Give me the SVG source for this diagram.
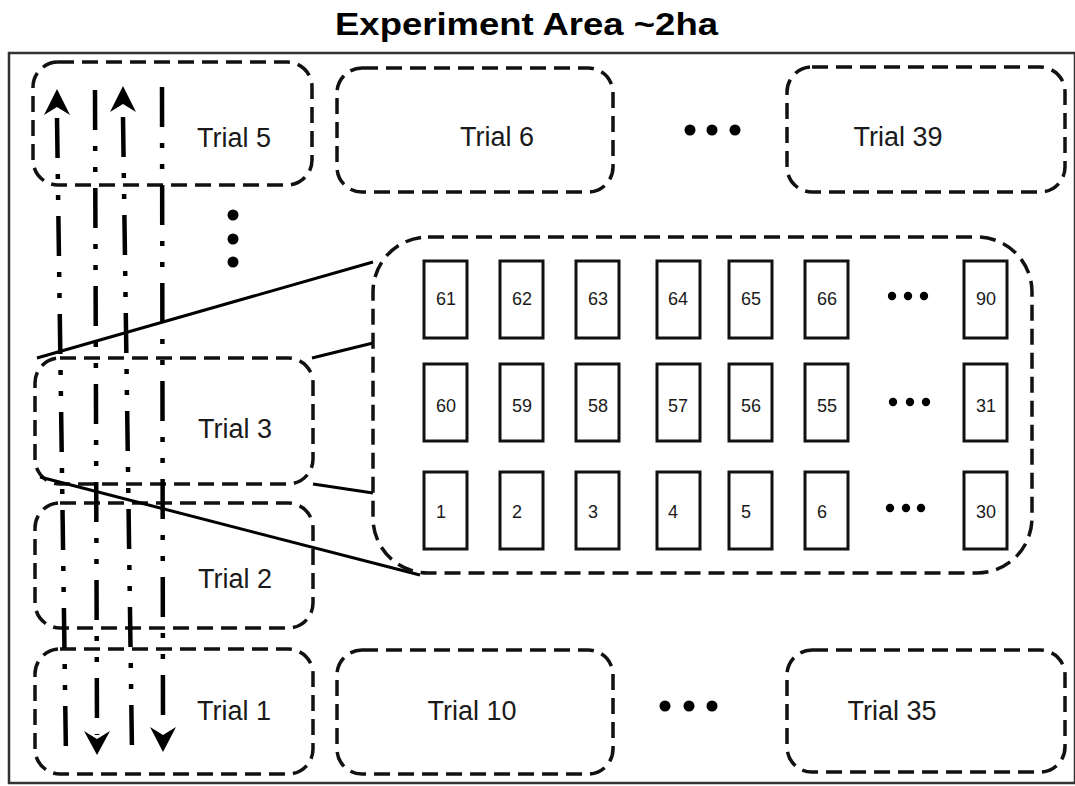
<svg xmlns="http://www.w3.org/2000/svg" width="1075" height="786" viewBox="0 0 1075 786">
<style>
.frame{fill:none;stroke:#333;stroke-width:2.5}
.dbox{fill:none;stroke:#111;stroke-width:3.5;stroke-dasharray:16 8}
.plot{fill:#fff;stroke:#111;stroke-width:3}
.lbl{font-family:"Liberation Sans",Arial,sans-serif;font-size:27px;fill:#1a1a1a}
.num{font-family:"Liberation Sans",Arial,sans-serif;font-size:18px;fill:#1a1a1a}
.title{font-family:"Liberation Sans",Arial,sans-serif;font-size:31px;font-weight:bold;fill:#000}
.path{fill:none;stroke:#000;stroke-width:4.5;stroke-dasharray:40 16 5 16 5 16}
.zoom{fill:none;stroke:#000;stroke-width:3}
.dot{fill:#000}
</style>
<rect width="1075" height="786" fill="#fff"/>
<text class="title" x="335" y="35" textLength="383" lengthAdjust="spacingAndGlyphs">Experiment Area ~2ha</text>
<rect class="frame" x="9" y="53" width="1066" height="730"/>

<g id="trial5"><rect class="dbox" x="33" y="62" width="279" height="123" rx="25"/><text class="lbl" x="197" y="147">Trial 5</text></g>
<g id="trial6"><rect class="dbox" x="337" y="68" width="276" height="124" rx="25"/><text class="lbl" x="497" y="146" text-anchor="middle">Trial 6</text></g>
<g id="trial39"><rect class="dbox" x="787" y="67" width="278" height="125" rx="25"/><text class="lbl" x="898" y="146" text-anchor="middle">Trial 39</text></g>
<g id="trial3"><rect class="dbox" x="35" y="358" width="278" height="126" rx="25"/><text class="lbl" x="198" y="438">Trial 3</text></g>
<g id="trial2"><rect class="dbox" x="35" y="503" width="278" height="125" rx="25"/><text class="lbl" x="198" y="588">Trial 2</text></g>
<g id="trial1"><rect class="dbox" x="35" y="649" width="278" height="125" rx="25"/><text class="lbl" x="197" y="720">Trial 1</text></g>
<g id="trial10"><rect class="dbox" x="337" y="650" width="276" height="124" rx="25"/><text class="lbl" x="472" y="720" text-anchor="middle">Trial 10</text></g>
<g id="trial35"><rect class="dbox" x="787" y="650" width="278" height="122" rx="25"/><text class="lbl" x="892" y="720" text-anchor="middle">Trial 35</text></g>

<g id="ellipses">
<circle class="dot" cx="690" cy="130" r="5.5"/><circle class="dot" cx="712" cy="130" r="5.5"/><circle class="dot" cx="735" cy="130" r="5.5"/>
<circle class="dot" cx="665" cy="706" r="5.5"/><circle class="dot" cx="689" cy="706" r="5.5"/><circle class="dot" cx="712" cy="706" r="5.5"/>
<circle class="dot" cx="233" cy="215" r="5.5"/><circle class="dot" cx="233" cy="239" r="5.5"/><circle class="dot" cx="233" cy="262" r="5.5"/>
</g>

<g id="connectors">
<line class="zoom" x1="37" y1="358" x2="373" y2="262"/>
<line class="zoom" x1="312" y1="358" x2="373" y2="343"/>
<line class="zoom" x1="313" y1="484" x2="373" y2="493"/>
<line class="zoom" x1="40" y1="477" x2="420" y2="575"/>
<path class="path" d="M57,118 L66,758"/>
<polygon class="dot" points="57,89 70,115 57,107 44,115"/>
<path class="path" d="M95,90 L97,735"/>
<polygon class="dot" points="97,755 110,731 97,739 84,731"/>
<path class="path" d="M123,117 L132,752"/>
<polygon class="dot" points="123,86 136,112 123,104 110,112"/>
<path class="path" d="M162,87 L163,730"/>
<polygon class="dot" points="163,752 176,727 163,735 150,727"/>
</g>

<g id="trialDetail">
<rect class="dbox" x="373" y="237" width="659" height="336" rx="55"/>
<g id="p61"><rect class="plot" x="424" y="261" width="43" height="77"/><text class="num" x="436" y="305">61</text></g>
<g id="p62"><rect class="plot" x="500" y="261" width="43" height="77"/><text class="num" x="512" y="305">62</text></g>
<g id="p63"><rect class="plot" x="576" y="261" width="43" height="77"/><text class="num" x="588" y="305">63</text></g>
<g id="p64"><rect class="plot" x="657" y="261" width="43" height="77"/><text class="num" x="668" y="305">64</text></g>
<g id="p65"><rect class="plot" x="729" y="261" width="43" height="77"/><text class="num" x="741" y="305">65</text></g>
<g id="p66"><rect class="plot" x="805" y="261" width="43" height="77"/><text class="num" x="817" y="305">66</text></g>
<g id="p90"><rect class="plot" x="964" y="261" width="43" height="77"/><text class="num" x="976" y="305">90</text></g>
<g id="p60"><rect class="plot" x="424" y="364" width="43" height="77"/><text class="num" x="436" y="412">60</text></g>
<g id="p59"><rect class="plot" x="500" y="364" width="43" height="77"/><text class="num" x="512" y="412">59</text></g>
<g id="p58"><rect class="plot" x="576" y="364" width="43" height="77"/><text class="num" x="588" y="412">58</text></g>
<g id="p57"><rect class="plot" x="657" y="364" width="43" height="77"/><text class="num" x="668" y="412">57</text></g>
<g id="p56"><rect class="plot" x="729" y="364" width="43" height="77"/><text class="num" x="741" y="412">56</text></g>
<g id="p55"><rect class="plot" x="805" y="364" width="43" height="77"/><text class="num" x="817" y="412">55</text></g>
<g id="p31"><rect class="plot" x="964" y="364" width="43" height="77"/><text class="num" x="976" y="412">31</text></g>
<g id="p1"><rect class="plot" x="424" y="472" width="43" height="77"/><text class="num" x="436" y="518">1</text></g>
<g id="p2"><rect class="plot" x="500" y="472" width="43" height="77"/><text class="num" x="512" y="518">2</text></g>
<g id="p3"><rect class="plot" x="576" y="472" width="43" height="77"/><text class="num" x="588" y="518">3</text></g>
<g id="p4"><rect class="plot" x="657" y="472" width="43" height="77"/><text class="num" x="668" y="518">4</text></g>
<g id="p5"><rect class="plot" x="729" y="472" width="43" height="77"/><text class="num" x="741" y="518">5</text></g>
<g id="p6"><rect class="plot" x="805" y="472" width="43" height="77"/><text class="num" x="817" y="518">6</text></g>
<g id="p30"><rect class="plot" x="964" y="472" width="43" height="77"/><text class="num" x="976" y="518">30</text></g>
<circle class="dot" cx="892" cy="296" r="4.2"/><circle class="dot" cx="908" cy="296" r="4.2"/><circle class="dot" cx="924" cy="296" r="4.2"/>
<circle class="dot" cx="893" cy="402" r="4.2"/><circle class="dot" cx="910" cy="402" r="4.2"/><circle class="dot" cx="926" cy="402" r="4.2"/>
<circle class="dot" cx="890" cy="508" r="4.2"/><circle class="dot" cx="906" cy="508" r="4.2"/><circle class="dot" cx="921" cy="508" r="4.2"/>
</g>
</svg>
